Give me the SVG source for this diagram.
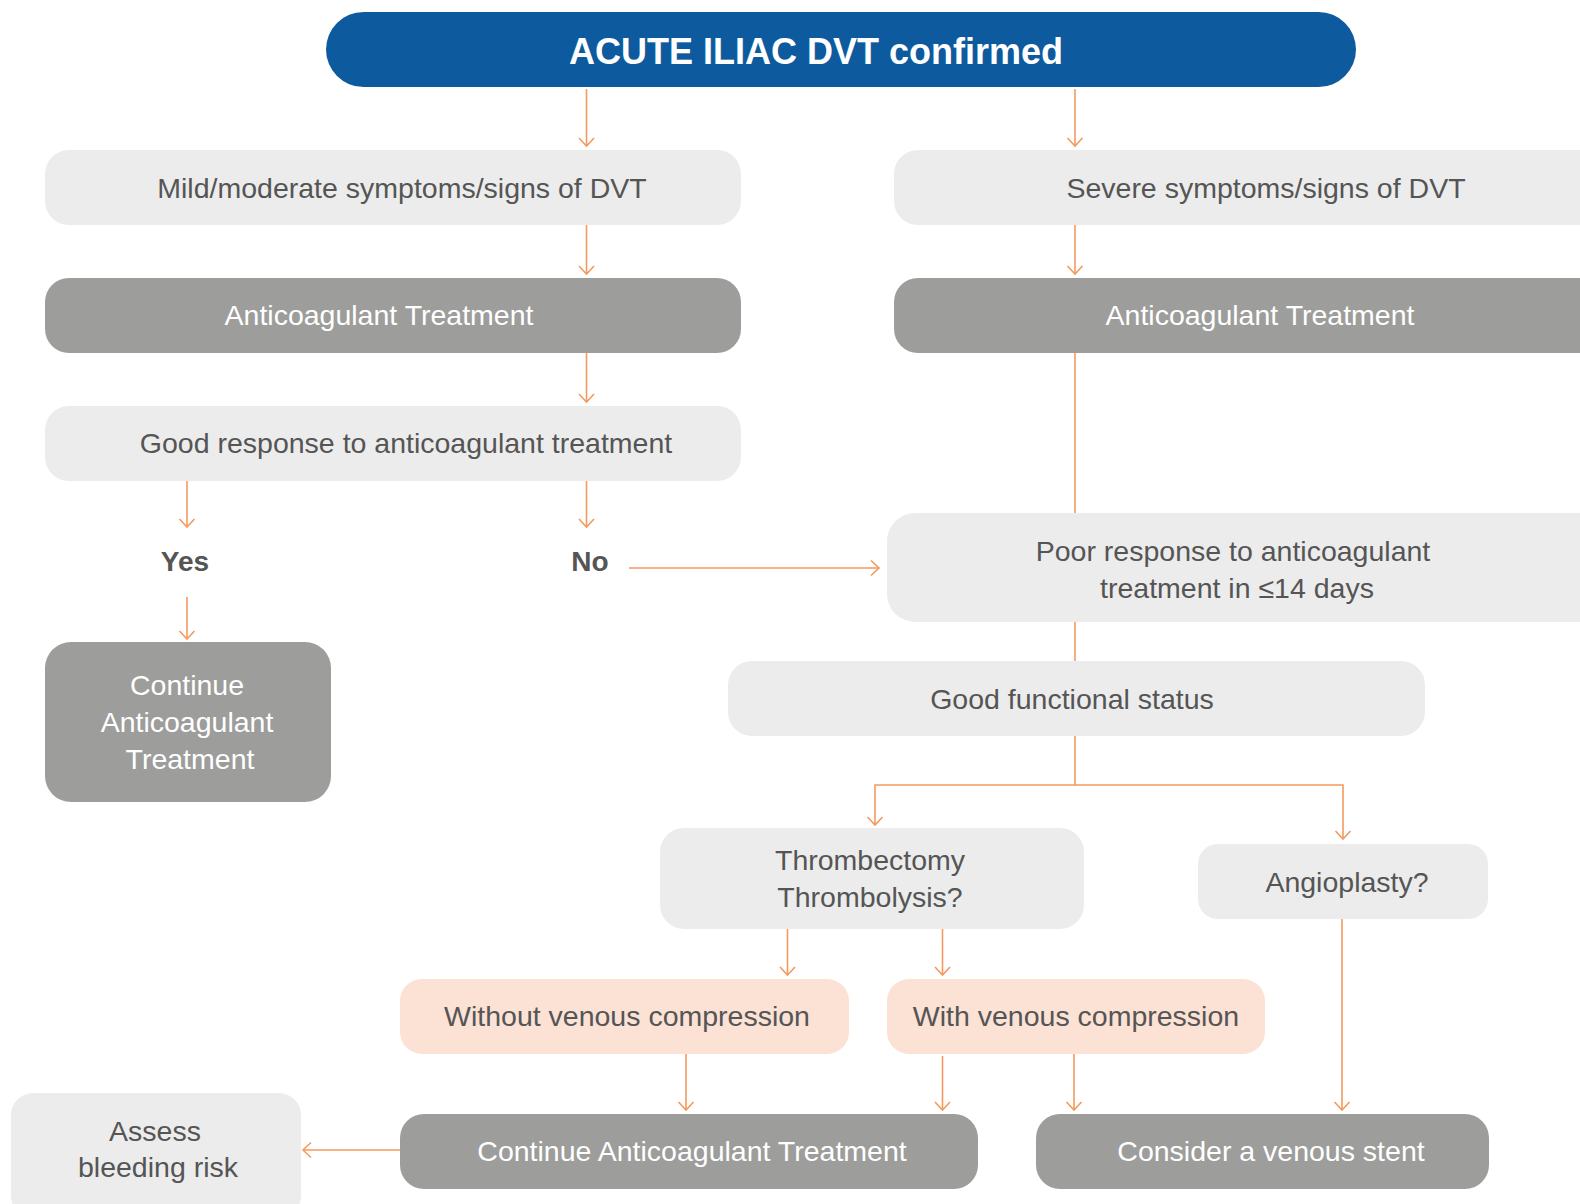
<svg xmlns="http://www.w3.org/2000/svg" width="1580" height="1204" viewBox="0 0 1580 1204">
<style>
.light{fill:#ececec}
.dark{fill:#9d9d9c}
.peach{fill:#fbe2d5}
.blue{fill:#0d5a9e}
text{font-family:"Liberation Sans",Arial,sans-serif;font-size:28.5px;text-anchor:middle}
.t{fill:#555555}
.w{fill:#ffffff}
.title{font-size:36px;font-weight:bold;fill:#ffffff}
.lbl{font-weight:bold;fill:#555555;font-size:28px}
.c{fill:none;stroke:#f39a5f;stroke-width:1.6}
</style>
<defs>
<marker id="ah" markerUnits="userSpaceOnUse" markerWidth="12" markerHeight="18" refX="10" refY="9" orient="auto" viewBox="0 0 12 18">
<path d="M2,1.5 L10,9 L2,16.5" fill="none" stroke="#f39a5f" stroke-width="1.6"/>
</marker>
</defs>
<rect width="1580" height="1204" fill="#ffffff"/>

<g id="connectors">
<path class="c" d="M586.5,89 V146" marker-end="url(#ah)"/>
<path class="c" d="M1075,89 V146" marker-end="url(#ah)"/>
<path class="c" d="M586.5,225 V274" marker-end="url(#ah)"/>
<path class="c" d="M1075,225 V274" marker-end="url(#ah)"/>
<path class="c" d="M586.5,353 V402" marker-end="url(#ah)"/>
<path class="c" d="M1075,353 V513"/>
<path class="c" d="M187,481 V527" marker-end="url(#ah)"/>
<path class="c" d="M586.5,481 V527" marker-end="url(#ah)"/>
<path class="c" d="M187,597 V639" marker-end="url(#ah)"/>
<path class="c" d="M629,568 H879" marker-end="url(#ah)"/>
<path class="c" d="M1075,622 V661"/>
<path class="c" d="M1075,736 V785"/>
<path class="c" d="M1075,785 H1343 V839" marker-end="url(#ah)"/>
<path class="c" d="M1075,785 H875 V825" marker-end="url(#ah)"/>
<path class="c" d="M787.5,929 V975" marker-end="url(#ah)"/>
<path class="c" d="M942.5,929 V975" marker-end="url(#ah)"/>
<path class="c" d="M1342,919 V1110" marker-end="url(#ah)"/>
<path class="c" d="M686,1054 V1110" marker-end="url(#ah)"/>
<path class="c" d="M942.5,1056 V1110" marker-end="url(#ah)"/>
<path class="c" d="M1074,1054 V1110" marker-end="url(#ah)"/>
<path class="c" d="M400,1150 H303" marker-end="url(#ah)"/>
</g>

<g id="n-top">
<rect class="blue" x="326" y="12" width="1030" height="75" rx="37.5"/>
<text class="title" x="816" y="64">ACUTE ILIAC DVT confirmed</text>
</g>
<g id="n-mild">
<rect class="light" x="45" y="150" width="696" height="75" rx="24"/>
<text class="t" x="402" y="198">Mild/moderate symptoms/signs of DVT</text>
</g>
<g id="n-severe">
<rect class="light" x="894" y="150" width="720" height="75" rx="24"/>
<text class="t" x="1266" y="198">Severe symptoms/signs of DVT</text>
</g>
<g id="n-anticoag-left">
<rect class="dark" x="45" y="278" width="696" height="75" rx="24"/>
<text class="w" x="379" y="325">Anticoagulant Treatment</text>
</g>
<g id="n-anticoag-right">
<rect class="dark" x="894" y="278" width="720" height="75" rx="24"/>
<text class="w" x="1260" y="325">Anticoagulant Treatment</text>
</g>
<g id="n-good-response">
<rect class="light" x="45" y="406" width="696" height="75" rx="24"/>
<text class="t" x="406" y="453">Good response to anticoagulant treatment</text>
</g>
<g id="n-yes">
<text class="lbl" x="185" y="571">Yes</text>
</g>
<g id="n-no">
<text class="lbl" x="590" y="571">No</text>
</g>
<g id="n-continue-left">
<rect class="dark" x="45" y="642" width="286" height="160" rx="26"/>
<text class="w" x="187" y="695">Continue</text>
<text class="w" x="187" y="732">Anticoagulant</text>
<text class="w" x="190" y="769">Treatment</text>
</g>
<g id="n-poor">
<rect class="light" x="887" y="513" width="727" height="109" rx="28"/>
<text class="t" x="1233" y="561">Poor response to anticoagulant</text>
<text class="t" x="1237" y="598">treatment in ≤14 days</text>
</g>
<g id="n-functional">
<rect class="light" x="728" y="661" width="697" height="75" rx="24"/>
<text class="t" x="1072" y="709">Good functional status</text>
</g>
<g id="n-thrombectomy">
<rect class="light" x="660" y="828" width="424" height="101" rx="24"/>
<text class="t" x="870" y="870">Thrombectomy</text>
<text class="t" x="870" y="907">Thrombolysis?</text>
</g>
<g id="n-angioplasty">
<rect class="light" x="1198" y="844" width="290" height="75" rx="20"/>
<text class="t" x="1347" y="892">Angioplasty?</text>
</g>
<g id="n-without">
<rect class="peach" x="400" y="979" width="449" height="75" rx="22"/>
<text class="t" x="627" y="1026">Without venous compression</text>
</g>
<g id="n-with">
<rect class="peach" x="887" y="979" width="378" height="75" rx="22"/>
<text class="t" x="1076" y="1026">With venous compression</text>
</g>
<g id="n-continue-bottom">
<rect class="dark" x="400" y="1114" width="578" height="75" rx="24"/>
<text class="w" x="692" y="1161">Continue Anticoagulant Treatment</text>
</g>
<g id="n-assess">
<rect class="light" x="11" y="1093" width="290" height="125" rx="22"/>
<text class="t" x="155" y="1141">Assess</text>
<text class="t" x="158" y="1177">bleeding risk</text>
</g>
<g id="n-stent">
<rect class="dark" x="1036" y="1114" width="453" height="75" rx="24"/>
<text class="w" x="1271" y="1161">Consider a venous stent</text>
</g>
</svg>
